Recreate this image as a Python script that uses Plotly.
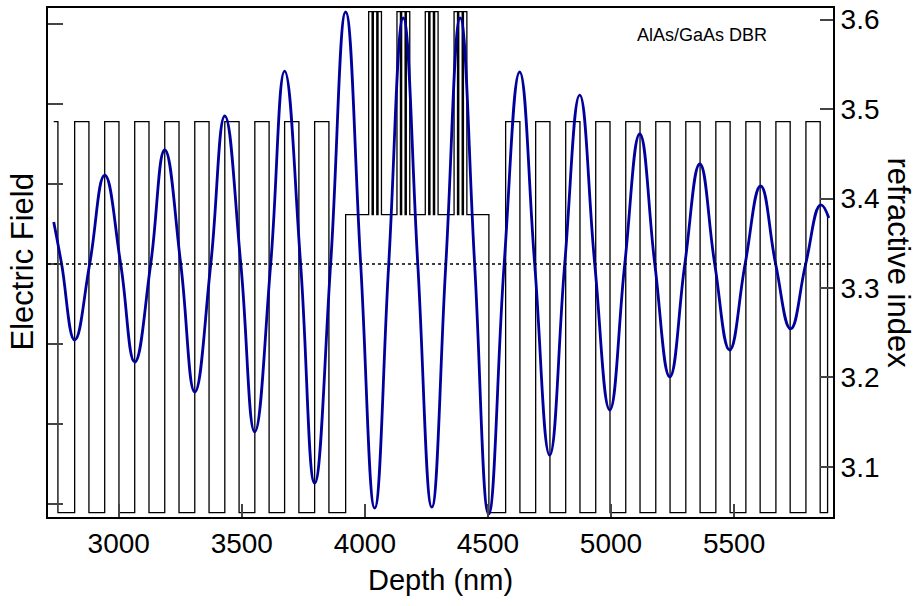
import plotly.graph_objects as go

# ---- data ----
n_high = 3.486
n_low = 3.049
n_cav = 3.382
n_qw = 3.609

# refractive-index profile: layer start depth (nm) and index of that layer
ri_depth = [2736, 2753, 2821, 2879, 2943, 3001, 3065, 3123, 3187, 3245, 3309, 3367,
            3431, 3489, 3553, 3611, 3674, 3732, 3796, 3854, 3922,
            4015.5, 4029.5, 4034.5, 4048.5, 4053.5, 4067.5,
            4130.5, 4144.5, 4149.5, 4163.5, 4168.5, 4182.5,
            4245.5, 4259.5, 4264.5, 4278.5, 4283.5, 4297.5,
            4362.5, 4376.5, 4381.5, 4395.5, 4400.5, 4414.5,
            4504, 4572, 4630, 4694, 4752, 4816, 4874, 4938, 4996, 5060, 5118,
            5182, 5240, 5304, 5362, 5426, 5484, 5548, 5606, 5670, 5728, 5792,
            5850, 5880]
ri_value = [n_high, n_low, n_high, n_low, n_high, n_low, n_high, n_low, n_high, n_low,
            n_high, n_low, n_high, n_low, n_high, n_low, n_high, n_low, n_high, n_low,
            n_cav,
            n_qw, n_cav, n_qw, n_cav, n_qw, n_cav,
            n_qw, n_cav, n_qw, n_cav, n_qw, n_cav,
            n_qw, n_cav, n_qw, n_cav, n_qw, n_cav,
            n_qw, n_cav, n_qw, n_cav, n_qw, n_cav,
            n_low, n_high, n_low, n_high, n_low, n_high, n_low, n_high, n_low, n_high,
            n_low, n_high, n_low, n_high, n_low, n_high, n_low, n_high, n_low, n_high,
            n_low, n_high, n_low, n_cav]

# electric field: extrema and zero crossings (nm, arb. units)
field_depth = [2736, 2768, 2821, 2882, 2943, 3008, 3065, 3130, 3187, 3252, 3309,
               3374, 3431, 3496, 3552.5, 3617.5, 3674, 3739, 3796, 3861, 3922,
               3983, 4040, 4097, 4156, 4215, 4272, 4329, 4387.5, 4446, 4503,
               4566, 4629, 4690, 4751, 4812, 4873, 4934, 4995, 5056, 5117, 5178,
               5239, 5300, 5361, 5421.5, 5482, 5545, 5608, 5669, 5730, 5791, 5852,
               5885]
field_value = [0.525, 0, -0.95, 0, 1.11, 0, -1.225, 0, 1.425, 0, -1.6,
               0, 1.85, 0, -2.1, 0, 2.41, 0, -2.74, 0, 3.15,
               0, -3.05, 0, 3.075, 0, -3.04, 0, 3.075, 0, -3.125,
               0, 2.4, 0, -2.39, 0, 2.11, 0, -1.825, 0, 1.625, 0,
               -1.41, 0, 1.25, 0, -1.075, 0, 0.975, 0, -0.81, 0, 0.74,
               0.575]

x_ticks = [3000, 3500, 4000, 4500, 5000, 5500]
ri_ticks = [3.1, 3.2, 3.3, 3.4, 3.5, 3.6]
field_ticks = [-3, -2, -1, 0, 1, 2, 3]

x_range = [2712.7, 5902]
ri_range = [3.044, 3.613]
field_range = [-3.1625, 3.2]

FONT = "Liberation Sans, Arial, sans-serif"

fig = go.Figure()
fig.add_trace(go.Scatter(x=ri_depth, y=ri_value, mode="lines", line_shape="hv",
                         line=dict(color="black", width=1.3), yaxis="y",
                         showlegend=False, hoverinfo="skip"))
fig.add_trace(go.Scatter(x=field_depth, y=field_value, mode="lines", line_shape="spline",
                         line=dict(color="#00009c", width=2.8, smoothing=1.3), yaxis="y2",
                         showlegend=False))

fig.add_shape(type="line", xref="paper", x0=0, x1=1, yref="y2", y0=0, y1=0,
              line=dict(color="black", width=1.6, dash="dot"))

fig.update_layout(
    width=914, height=606,
    margin=dict(l=48, r=81, t=8, b=89),
    paper_bgcolor="white", plot_bgcolor="white",
    font=dict(family=FONT, color="black", size=28),
    xaxis=dict(range=x_range, tickvals=x_ticks, ticks="inside", ticklen=13, tickwidth=1.5,
               showline=True, linewidth=2, linecolor="black", mirror=True, automargin=False,
               showgrid=False, zeroline=False, tickfont=dict(size=28)),
    yaxis=dict(range=ri_range, tickvals=ri_ticks, side="right", ticks="inside", ticklen=13,
               tickwidth=1.5, showline=True, linewidth=2, linecolor="black", automargin=False,
               showgrid=False, zeroline=False, tickfont=dict(size=28)),
    yaxis2=dict(range=field_range, tickvals=field_ticks, side="left", overlaying="y",
                ticks="inside", ticklen=15, tickwidth=1.5, showticklabels=False,
                showline=True, linewidth=2, linecolor="black", automargin=False,
                showgrid=False, zeroline=False),
    annotations=[
        dict(text="Depth (nm)", xref="paper", yref="paper", x=0.5, y=0, yshift=-63,
             showarrow=False, yanchor="middle", font=dict(size=29)),
        dict(text="Electric Field", xref="paper", yref="paper", x=0, xshift=-26, y=0.5,
             textangle=-90, showarrow=False, xanchor="center", font=dict(size=31)),
        dict(text="refractive index", xref="paper", yref="paper", x=1, xshift=65, y=0.5,
             textangle=90, showarrow=False, xanchor="center", font=dict(size=31)),
        dict(text="AlAs/GaAs DBR", xref="paper", yref="paper", x=0.918, y=0.947,
             xanchor="right", yanchor="middle", showarrow=False, font=dict(size=18)),
    ],
)

fig.write_html("out.html", config={"displayModeBar": False},
               post_script="document.body.style.margin='0';")
